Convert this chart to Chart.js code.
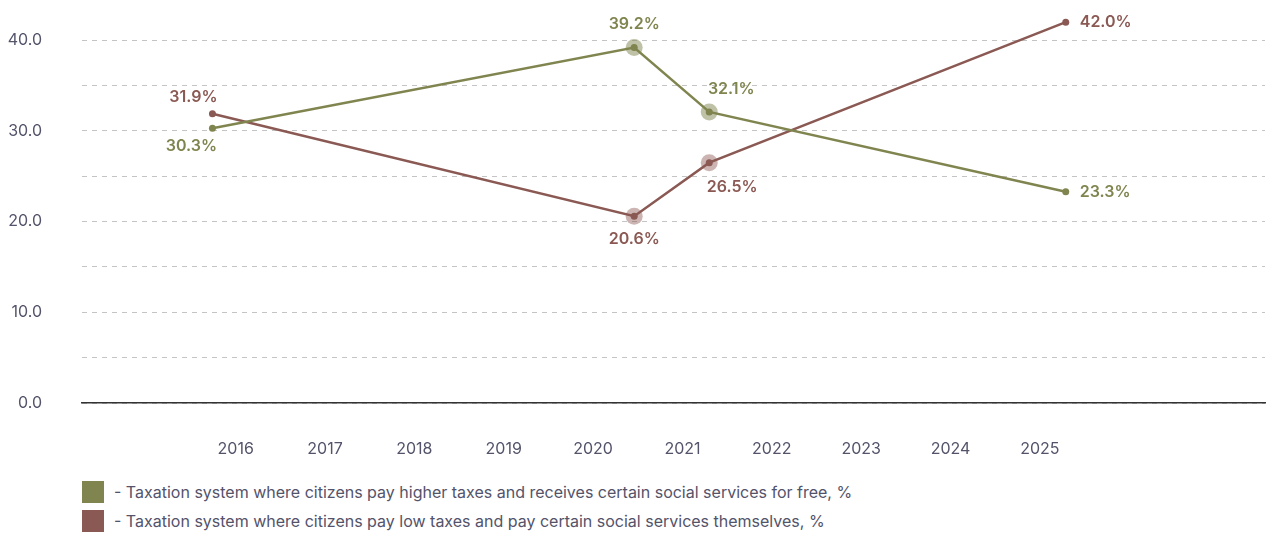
<!DOCTYPE html>
<html>
<head>
<meta charset="utf-8">
<script src="https://cdn.jsdelivr.net/npm/chart.js@4.4.1/dist/chart.umd.min.js"></script>
<style>
  html, body { margin: 0; padding: 0; background: #ffffff; }
  #wrap { position: relative; width: 1275px; height: 533px; font-family: Inter, "Noto Sans", sans-serif; }
  #plot { position: absolute; left: 0; top: 0; width: 1275px; height: 470px; }
  #legend { position: absolute; left: 82px; top: 481px; }
  .row { display: flex; align-items: center; height: 22px; margin-bottom: 7px; }
  .sw { width: 22px; height: 22px; flex: none; }
  .txt { margin-left: 10px; font-size: 16px; color: #53536a; white-space: nowrap; }
</style>
</head>
<body>
<div id="wrap">
  <div id="plot"><canvas id="chart"></canvas></div>
  <div id="legend"></div>
</div>
<script>
// Survey waves, as fractional years
const surveyDates = [2015.74, 2020.46, 2021.30, 2025.29];

// Share of respondents preferring each taxation model, %
const higherTaxesFreeServices = [30.3, 39.2, 32.1, 23.3];
const lowTaxesPaidServices = [31.9, 20.6, 26.5, 42.0];

const seriesNames = [
  '- Taxation system where citizens pay higher taxes and receives certain social services for free, %',
  '- Taxation system where citizens pay low taxes and pay certain social services themselves, %'
];

const yearTicks = [2016, 2017, 2018, 2019, 2020, 2021, 2022, 2023, 2024, 2025];
const valueTicks = [0, 5, 10, 15, 20, 25, 30, 35, 40];

// Where each value label sits relative to its point
const greenLabelSpots = ['belowLeft', 'above', 'aboveRight', 'right'];
const brownLabelSpots = ['aboveLeft', 'below', 'belowRight', 'right'];
// Points that get a soft halo
const haloPoints = [false, true, true, false];

const GREEN = '#80854f';
const BROWN = '#8b5953';
const GREEN_HALO = 'rgba(128,133,79,0.5)';
const BROWN_HALO = 'rgba(139,89,83,0.45)';
const TEXT = '#53536a';

function toPoints(xs, ys) {
  return xs.map((x, i) => ({ x: x, y: ys[i] }));
}

const spotOffsets = {
  above:      { dx: 0,   dy: -23, align: 'center' },
  below:      { dx: 0,   dy: 23,  align: 'center' },
  aboveRight: { dx: 22,  dy: -23, align: 'center' },
  belowRight: { dx: 23,  dy: 24,  align: 'center' },
  aboveLeft:  { dx: -19, dy: -17, align: 'center' },
  belowLeft:  { dx: -21, dy: 18,  align: 'center' },
  right:      { dx: 14,  dy: 0,   align: 'left' }
};

const haloPlugin = {
  id: 'halo',
  beforeDatasetsDraw(chart) {
    const ctx = chart.ctx;
    chart.data.datasets.forEach((ds, di) => {
      const meta = chart.getDatasetMeta(di);
      meta.data.forEach((pt, i) => {
        if (!ds.halo[i]) return;
        ctx.save();
        ctx.fillStyle = ds.haloColor;
        ctx.beginPath();
        ctx.arc(pt.x, pt.y, 8.5, 0, Math.PI * 2);
        ctx.fill();
        ctx.restore();
      });
    });
  }
};

const valueLabelPlugin = {
  id: 'valueLabels',
  afterDatasetsDraw(chart) {
    const ctx = chart.ctx;
    chart.data.datasets.forEach((ds, di) => {
      const meta = chart.getDatasetMeta(di);
      meta.data.forEach((pt, i) => {
        const spot = spotOffsets[ds.labelSpots[i]];
        const v = ds.data[i].y;
        ctx.save();
        ctx.font = '600 16px Inter, "Noto Sans", sans-serif';
        ctx.fillStyle = ds.borderColor;
        ctx.textAlign = spot.align;
        ctx.textBaseline = 'middle';
        ctx.fillText(v.toFixed(1) + '%', pt.x + spot.dx, pt.y + spot.dy);
        ctx.restore();
      });
    });
  }
};

const ctx = document.getElementById('chart');
new Chart(ctx, {
  type: 'line',
  data: {
    datasets: [
      {
        label: seriesNames[0],
        data: toPoints(surveyDates, higherTaxesFreeServices),
        borderColor: GREEN,
        backgroundColor: GREEN,
        pointBackgroundColor: GREEN,
        pointBorderWidth: 0,
        pointRadius: 3.5,
        borderWidth: 2.5,
        tension: 0,
        clip: false,
        halo: haloPoints,
        haloColor: GREEN_HALO,
        labelSpots: greenLabelSpots
      },
      {
        label: seriesNames[1],
        data: toPoints(surveyDates, lowTaxesPaidServices),
        borderColor: BROWN,
        backgroundColor: BROWN,
        pointBackgroundColor: BROWN,
        pointBorderWidth: 0,
        pointRadius: 3.5,
        borderWidth: 2.5,
        tension: 0,
        clip: false,
        halo: haloPoints,
        haloColor: BROWN_HALO,
        labelSpots: brownLabelSpots
      }
    ]
  },
  options: {
    responsive: true,
    maintainAspectRatio: false,
    animation: false,
    events: [],
    layout: { padding: { top: 4, right: 10, left: 0, bottom: 0 } },
    plugins: {
      legend: { display: false },
      tooltip: { enabled: false }
    },
    scales: {
      x: {
        type: 'linear',
        min: 2014.28,
        max: 2027.52,
        afterBuildTicks: (scale) => { scale.ticks = yearTicks.map(v => ({ value: v })); },
        afterFit: (scale) => { scale.height = 67; scale.paddingLeft = 0; scale.paddingRight = 0; },
        grid: { display: false, drawTicks: false },
        border: { display: true, color: '#333333', width: 1.5 },
        ticks: {
          autoSkip: false,
          maxRotation: 0,
          padding: 37,
          color: TEXT,
          font: { family: 'Inter', size: 16 },
          callback: (v) => String(v)
        }
      },
      y: {
        type: 'linear',
        min: 0,
        max: 44,
        afterBuildTicks: (scale) => { scale.ticks = valueTicks.map(v => ({ value: v })); },
        afterFit: (scale) => { scale.width = 82; scale.paddingTop = 0; scale.paddingBottom = 0; },
        grid: { color: '#c4c4c4', lineWidth: 1, drawTicks: false },
        border: { display: false, dash: [5, 5] },
        ticks: {
          padding: 40,
          color: TEXT,
          font: { family: 'Inter', size: 16 },
          callback: (v) => (v % 10 === 0 ? v.toFixed(1) : '')
        }
      }
    }
  },
  plugins: [haloPlugin, valueLabelPlugin]
});

// Legend rows below the plot
const legend = document.getElementById('legend');
[GREEN, BROWN].forEach((c, i) => {
  const row = document.createElement('div');
  row.className = 'row';
  const sw = document.createElement('span');
  sw.className = 'sw';
  sw.style.background = c;
  const txt = document.createElement('span');
  txt.className = 'txt';
  txt.textContent = seriesNames[i];
  row.appendChild(sw);
  row.appendChild(txt);
  legend.appendChild(row);
});
</script>
</body>
</html>
